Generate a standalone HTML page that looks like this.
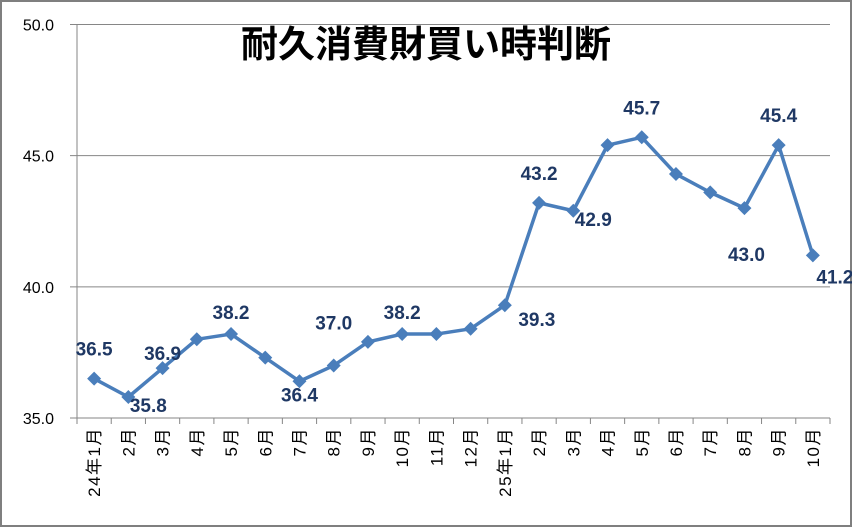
<!DOCTYPE html>
<html><head><meta charset="utf-8"><style>
html,body{margin:0;padding:0;background:#fff}
svg{display:block;font-family:"Liberation Sans","Noto Sans CJK JP",sans-serif}
</style></head><body>
<svg id="chart" width="852" height="527" viewBox="0 0 852 527">
<rect x="1" y="1" width="850" height="525" fill="#fff" stroke="#7f7f7f" stroke-width="2"/>
<text x="426" y="57" text-anchor="middle" font-size="37" font-weight="bold" fill="#000">耐久消費財買い時判断</text>
<g id="grid"></g><g id="axes"></g><g id="series"></g>
</svg>
<script>
const categories=["24年1月","2月","3月","4月","5月","6月","7月","8月","9月","10月","11月","12月","25年1月","2月","3月","4月","5月","6月","7月","8月","9月","10月"];
const values=[36.5,35.8,36.9,38.0,38.2,37.3,36.4,37.0,37.9,38.2,38.2,38.4,39.3,43.2,42.9,45.4,45.7,44.3,43.6,43.0,45.4,41.2];
const labelShown=[true,true,true,false,true,false,true,true,false,true,false,false,true,true,true,false,true,false,false,true,true,true];
const labelPos=["a3","rb","a1","a2","a2","a2","b","a4","a2","a2","a2","a2","r","a3","rb","a3","a3","a3","a3","b2","a3","rb2"];
const yTicks=[35,40,45,50];
const NS="http://www.w3.org/2000/svg";
const L=77,R=830,T=24.5,B=418,yMin=35,yMax=50;
const cw=(R-L)/categories.length;
const x=i=>L+cw*(i+0.5);
const y=v=>B-(v-yMin)/(yMax-yMin)*(B-T);
const OFF={a1:[0,-15],a2:[0,-22],a3:[0,-30],a4:[0,-43],b:[0,13],b2:[2,46],rb:[20,8],rb2:[22,21],r:[32,14]};
function mk(tag,attrs,parent){const e=document.createElementNS(NS,tag);for(const k in attrs)e.setAttribute(k,attrs[k]);parent.appendChild(e);return e;}
const grid=document.getElementById('grid'),axes=document.getElementById('axes'),ser=document.getElementById('series');
yTicks.forEach(t=>{
  const g=mk('line',{x1:70,x2:R,y1:y(t),y2:y(t),stroke:'#868686','stroke-width':1},grid);
  
  
  const tx=mk('text',{x:54,y:y(t)+6,'text-anchor':'end','font-size':16,fill:'#000'},axes);
  tx.textContent=t.toFixed(1);
  
  
});
const ya=mk('line',{x1:L,x2:L,y1:T,y2:B,stroke:'#868686','stroke-width':1},axes);


for(let i=0;i<=categories.length;i++){
  const tk=mk('line',{x1:L+cw*i,x2:L+cw*i,y1:B,y2:B+6,stroke:'#868686','stroke-width':1},axes);
  
  
}
categories.forEach((c,i)=>{
  const tx=mk('text',{transform:`translate(${x(i)+6},427) rotate(-90)`,'text-anchor':'end','font-size':17,'letter-spacing':'1.5',fill:'#000'},axes);
  tx.textContent=c;
  
  
});
const pts=values.map((v,i)=>x(i)+','+y(v)).join(' ');
const pl=mk('polyline',{points:pts,fill:'none',stroke:'#4a7ebb','stroke-width':3.5,'stroke-linejoin':'round'},ser);


values.forEach((v,i)=>{
  const cx=x(i),cy=y(v),s=7;
  const m=mk('polygon',{points:`${cx},${cy-s} ${cx+s},${cy} ${cx},${cy+s} ${cx-s},${cy}`,fill:'#4a7ebb'},ser);
  
  
  if(labelShown[i]){
    const o=OFF[labelPos[i]];
    const t=mk('text',{x:cx+o[0],y:cy+o[1]+7,'text-anchor':'middle','font-size':19,'font-weight':'bold',fill:'#1f3864'},ser);
    t.textContent=v.toFixed(1);
    
    
  }
});
</script>
</body></html>
